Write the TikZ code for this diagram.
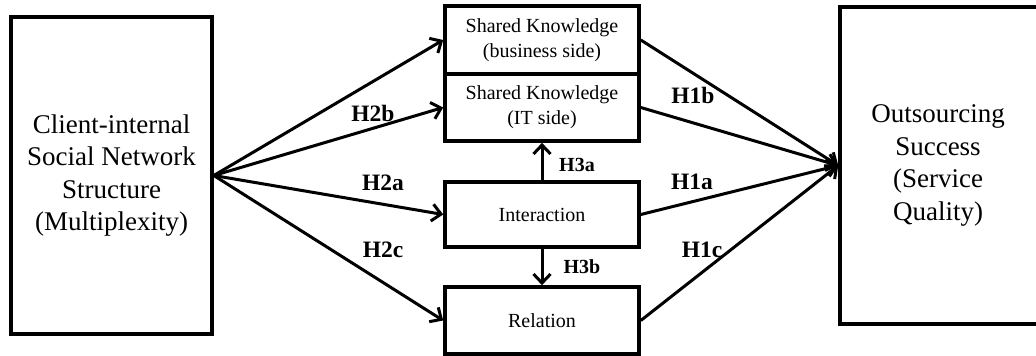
\documentclass[tikz,border=0pt]{standalone}
\usepackage{fontspec}
\setmainfont{Liberation Serif}
\usetikzlibrary{arrows.meta}

\begin{document}
\begin{tikzpicture}[x=1pt,y=-1pt,>={Straight Barb[length=9pt,width=17pt]},
  box/.style={draw,line width=3.6pt,inner sep=0pt,align=center},
  link/.style={->,line width=3pt},
  hyp/.style={font=\fontsize{23.5}{26}\selectfont\bfseries},
  hypsmall/.style={font=\fontsize{20}{22}\selectfont\bfseries}]
\useasboundingbox (0,0) rectangle (1036,356);
% ---- outer constructs ----
\node[box,minimum width=201pt,minimum height=317pt,
  font=\fontsize{27}{32.5}\selectfont] (snet) at (111.5,175.5)
  {Client-internal\\Social Network\\Structure\\(Multiplexity)};
\node[box,minimum width=230pt,minimum height=317pt,
  font=\fontsize{27}{32.5}\selectfont] (succ) at (955,165.5)
  {\hspace*{-34pt}Outsourcing\\\hspace*{-34pt}Success\\\hspace*{-34pt}(Service\\\hspace*{-34pt}Quality)};
% ---- mediators, one column ----
\def\mx{542}
\node[box,minimum width=194pt,minimum height=68pt,
  font=\fontsize{20}{25}\selectfont] (skbus) at (\mx,40)
  {Shared Knowledge\\(business side)};
\node[box,minimum width=194pt,minimum height=67pt,
  font=\fontsize{20}{25}\selectfont] (skit) at (\mx,107.5)
  {Shared Knowledge\\(IT side)};
\node[box,minimum width=194pt,minimum height=65pt,
  font=\fontsize{20}{25}\selectfont] (inter) at (\mx,214.5) {Interaction};
\node[box,minimum width=194pt,minimum height=67pt,
  font=\fontsize{20}{25}\selectfont] (rel) at (\mx,320.5) {Relation};
% ---- H2: network structure to mediators ----
\foreach \m in {skbus,skit,inter,rel}
  \draw[link] (snet.east) -- (\m.west);
% ---- H1: mediators to success ----
\foreach \m in {skbus,skit,inter,rel}
  \draw[link] (\m.east) -- (succ.west);
% ---- H3: interaction to knowledge and relation ----
\draw[link] (inter.north) -- (skit.south);
\draw[link] (inter.south) -- (rel.north);
% ---- hypothesis labels ----
\node[hyp] (h2b) at (373,113) {H2b};
\node[hyp] (h2a) at (383,183) {H2a};
\node[hyp] (h2c) at (383,250) {H2c};
\node[hyp] (h1b) at (693,95) {H1b};
\node[hyp] (h1a) at (692,182) {H1a};
\node[hyp] (h1c) at (702,250) {H1c};
\node[hypsmall] (h3a) at (577,165) {H3a};
\node[hypsmall] (h3b) at (582,267) {H3b};
\end{tikzpicture}
\end{document}
